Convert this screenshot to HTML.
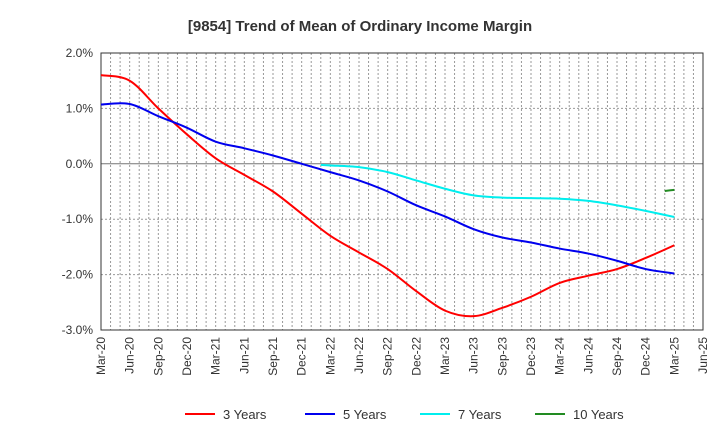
<!DOCTYPE html>
<html><head><meta charset="utf-8"><style>
body{margin:0;background:#fff;font-family:"Liberation Sans",Arial,sans-serif}
</style></head><body>
<svg id="c" width="720" height="440" xmlns="http://www.w3.org/2000/svg" style="font-family:'Liberation Sans',Arial,sans-serif"></svg>
<script>
const tickLabels=["Mar-20","Jun-20","Sep-20","Dec-20","Mar-21","Jun-21","Sep-21","Dec-21","Mar-22","Jun-22","Sep-22","Dec-22","Mar-23","Jun-23","Sep-23","Dec-23","Mar-24","Jun-24","Sep-24","Dec-24","Mar-25","Jun-25"];
const yTicks=[2,1,0,-1,-2,-3];
const months3=[0,3,6,9,12,15,18,21,24,27,30,33,36,39,42,45,48,51,54,57,60];
const s3=[1.6,1.5,1.0,0.53,0.1,-0.2,-0.5,-0.9,-1.3,-1.6,-1.9,-2.3,-2.65,-2.75,-2.6,-2.4,-2.15,-2.02,-1.9,-1.7,-1.47];
const s5=[1.07,1.08,0.86,0.65,0.4,0.28,0.15,0.0,-0.15,-0.3,-0.5,-0.75,-0.95,-1.18,-1.33,-1.42,-1.53,-1.62,-1.75,-1.9,-1.98];
const months7=[23,24,27,30,33,36,39,42,45,48,51,54,57,60];
const s7=[-0.02,-0.03,-0.06,-0.15,-0.3,-0.45,-0.57,-0.61,-0.62,-0.63,-0.67,-0.75,-0.85,-0.96];
const months10=[59,60];
const s10=[-0.49,-0.47];
const L=101,R=703,T=53,B=330;
const X=m=>L+(R-L)*m/63, Y=v=>T+(2-v)*(B-T)/5;
const svg=document.getElementById('c');const NS="http://www.w3.org/2000/svg";
function el(t,a,p){const e=document.createElementNS(NS,t);for(const k in a)e.setAttribute(k,a[k]);(p||svg).appendChild(e);return e;}
const t=el('text',{x:360,y:31,'text-anchor':'middle','font-size':15,'font-weight':'bold',fill:'#333'});t.textContent="[9854]  Trend of Mean of Ordinary Income Margin";

for(let m=1;m<63;m++){const g=el('line',{x1:X(m),x2:X(m),y1:T,y2:B,stroke:'#999','stroke-dasharray':'2,2','stroke-width':1});
}
yTicks.forEach(v=>{const g=el('line',{x1:L,x2:R,y1:Y(v),y2:Y(v),stroke:v==0?'#777':'#999','stroke-dasharray':v==0?'':'2,2','stroke-width':1});

const l=el('text',{x:L-8,y:Y(v)+4,'text-anchor':'end','font-size':12,fill:'#333'});l.textContent=v.toFixed(1)+"%";
});
const fr=el('rect',{x:L,y:T,width:R-L,height:B-T,fill:'none',stroke:'#333'});

tickLabels.forEach((s,i)=>{const x=X(i*3)+4,y=B+7;const l=el('text',{x:x,y:y,'text-anchor':'end','font-size':12,fill:'#333',transform:`rotate(-90 ${x} ${y})`});l.textContent=s;
});
function path(ms,vs){const p=ms.map((m,i)=>[X(m),Y(vs[i])]);let d=`M${p[0][0]},${p[0][1]}`;
for(let i=0;i<p.length-1;i++){const p0=p[Math.max(0,i-1)],p1=p[i],p2=p[i+1],p3=p[Math.min(p.length-1,i+2)];
d+=` C${p1[0]+(p2[0]-p0[0])/6},${p1[1]+(p2[1]-p0[1])/6} ${p2[0]-(p3[0]-p1[0])/6},${p2[1]-(p3[1]-p1[1])/6} ${p2[0]},${p2[1]}`;}return d;}
const series=[["3 Years",months3,s3,'#ff0000','line-3-years'],["5 Years",months3,s5,'#0000ee','line-5-years'],["7 Years",months7,s7,'#00eeee','line-7-years'],["10 Years",months10,s10,'#228b22','line-10-years']];
series.forEach(s=>{const p=el('path',{d:path(s[1],s[2]),fill:'none',stroke:s[3],'stroke-width':2});
});
const lx=[185,305,420,535];
series.forEach((s,i)=>{const g=el('g',{});
el('line',{x1:lx[i],x2:lx[i]+30,y1:414,y2:414,stroke:s[3],'stroke-width':2},g);
const tx=el('text',{x:lx[i]+38,y:419,'font-size':13,fill:'#333'},g);tx.textContent=s[0];});
</script>
</body></html>
